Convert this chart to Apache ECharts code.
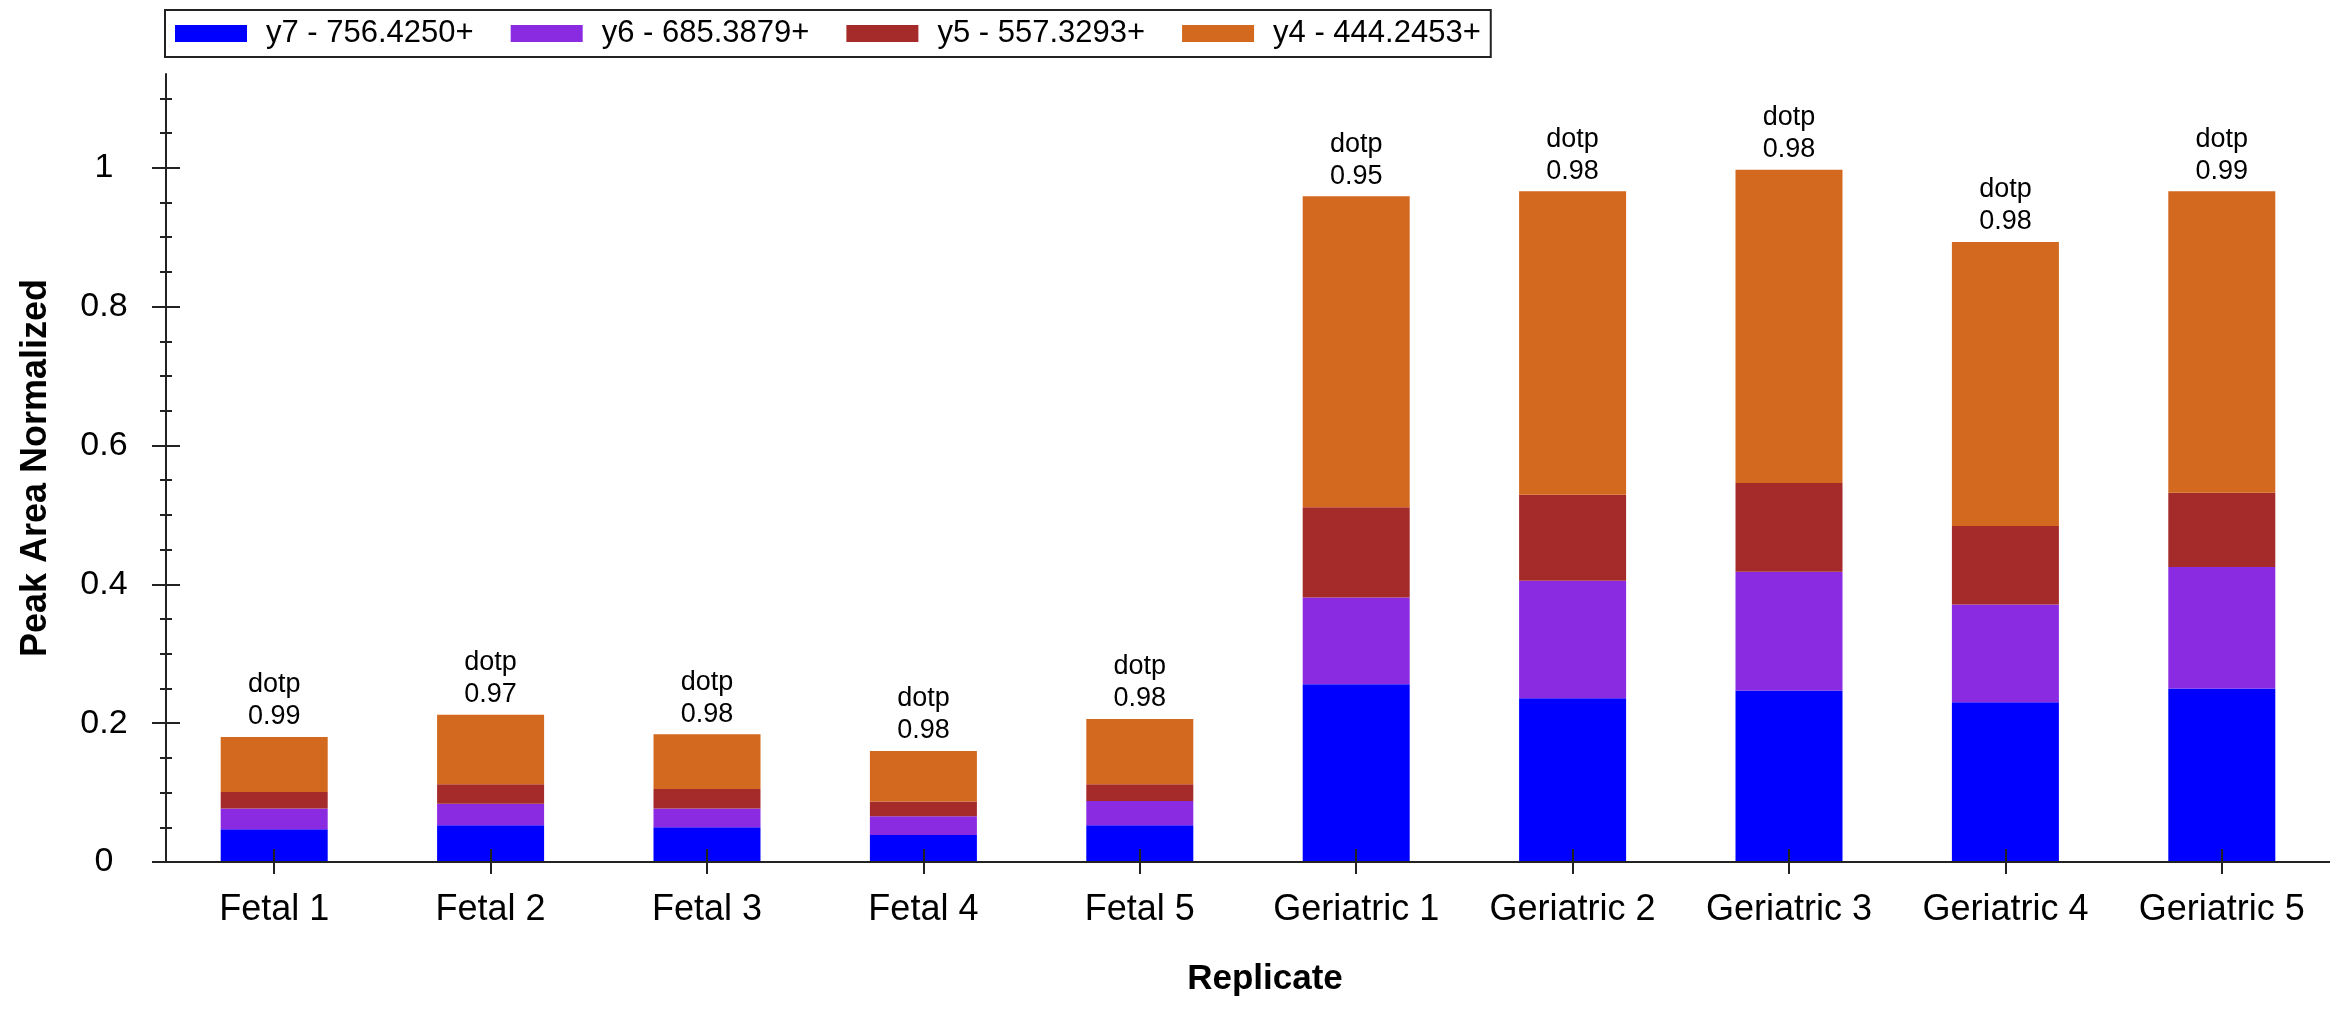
<!DOCTYPE html>
<html><head><meta charset="utf-8">
<script src="https://cdn.jsdelivr.net/npm/echarts@6/dist/echarts.min.js"></script>
<style>html,body{margin:0;padding:0;background:#fff}#c{width:2330px;height:1010px}</style>
</head><body><div id="c"></div>
<script>
const categories = ['Fetal 1','Fetal 2','Fetal 3','Fetal 4','Fetal 5','Geriatric 1','Geriatric 2','Geriatric 3','Geriatric 4','Geriatric 5'];
const seriesNames = ['y7 - 756.4250+','y6 - 685.3879+','y5 - 557.3293+','y4 - 444.2453+'];
const y7 = [0.047,0.053,0.050,0.039,0.053,0.256,0.236,0.247,0.230,0.250];
const y6 = [0.030,0.031,0.027,0.027,0.035,0.125,0.169,0.171,0.141,0.175];
const y5 = [0.024,0.028,0.028,0.021,0.024,0.130,0.124,0.128,0.113,0.107];
const y4 = [0.079,0.100,0.079,0.073,0.094,0.448,0.437,0.451,0.409,0.434];
const dotp = [0.99,0.97,0.98,0.98,0.98,0.95,0.98,0.98,0.98,0.99];
const yTicks = [0,0.2,0.4,0.6,0.8,1];
const yMinorTicks = [0.05,0.1,0.15,0.25,0.3,0.35,0.45,0.5,0.55,0.65,0.7,0.75,0.85,0.9,0.95,1.05,1.1];
const yMax = 1.135;
const colors = ['#0000FF','#8A2BE2','#A52A2A','#D2691E'];

const FONT = "'Liberation Sans', Arial, sans-serif";
const AX = '#222';
const chart = echarts.init(document.getElementById('c'), null, {renderer:'canvas'});

function yAx(opts){
  return Object.assign({
    type:'value', min:0, max:yMax, position:'left',
    splitLine:{show:false},
    axisLine:{show:false},
    axisLabel:{show:false},
    axisTick:{show:false}
  }, opts);
}
function xAx(opts){
  return Object.assign({
    type:'category', data:categories, position:'bottom',
    axisLine:{show:false},
    axisLabel:{show:false},
    axisTick:{show:false},
    splitLine:{show:false}
  }, opts);
}

const vals = [y7,y6,y5,y4];
const series = seriesNames.map((n,i)=>({
  name:n, type:'bar', stack:'total', data:vals[i], barWidth:107,
  xAxisIndex:0, yAxisIndex:0,
  itemStyle:{color:colors[i]},
  label: i===3 ? {
    show:true, position:'top', distance:4,
    formatter:(p)=>'dotp\n'+dotp[p.dataIndex].toFixed(2),
    fontFamily:FONT, fontSize:27, lineHeight:32, color:'#000'
  } : {show:false}
}));

chart.setOption({
  animation:false,
  backgroundColor:'#fff',
  grid:{left:166, right:0, top:74, bottom:148, outerBoundsMode:'none', containLabel:false},
  legend:{
    data:seriesNames, left:165, top:10, icon:'rect',
    itemWidth:72, itemHeight:17, itemGap:37,
    padding:[8,10,8,10], borderColor:'#222', borderWidth:2,
    textStyle:{fontFamily:FONT, fontSize:31, color:'#000', padding:[0,0,0,14]}
  },
  xAxis:[
    xAx({
      z:5,
      axisLine:{show:true, onZero:false, lineStyle:{color:AX, width:2}},
      axisTick:{show:true, alignWithLabel:true, inside:false, length:12, lineStyle:{color:AX, width:2}},
      axisLabel:{show:true, interval:0, margin:30, fontFamily:FONT, fontSize:36, color:'#000'},
      name:'Replicate', nameLocation:'middle', nameGap:100,
      nameTextStyle:{fontFamily:FONT, fontSize:35, fontWeight:'bold', color:'#000', padding:[0,0,0,34]}
    }),
    xAx({z:5, axisTick:{show:true, alignWithLabel:true, inside:true, length:13, lineStyle:{color:AX, width:2}}})
  ],
  yAxis:[
    yAx({
      z:5,
      axisLine:{show:true, onZero:false, lineStyle:{color:AX, width:2}},
      axisTick:{show:true, inside:false, length:14, customValues:yTicks, lineStyle:{color:AX, width:2}},
      axisLabel:{show:true, customValues:yTicks, align:'center', margin:62, fontFamily:FONT, fontSize:34, color:'#000'},
      name:'Peak Area Normalized', nameLocation:'middle', nameGap:112,
      nameTextStyle:{fontFamily:FONT, fontSize:36, fontWeight:'bold', color:'#000'}
    }),
    yAx({z:5, axisTick:{show:true, inside:true, length:14, customValues:yTicks, lineStyle:{color:AX, width:2}}}),
    yAx({z:5, axisTick:{show:true, inside:false, length:6, customValues:yMinorTicks, lineStyle:{color:AX, width:2}}}),
    yAx({z:5, axisTick:{show:true, inside:true, length:6, customValues:yMinorTicks, lineStyle:{color:AX, width:2}}})
  ],
  series:series
});
</script></body></html>
